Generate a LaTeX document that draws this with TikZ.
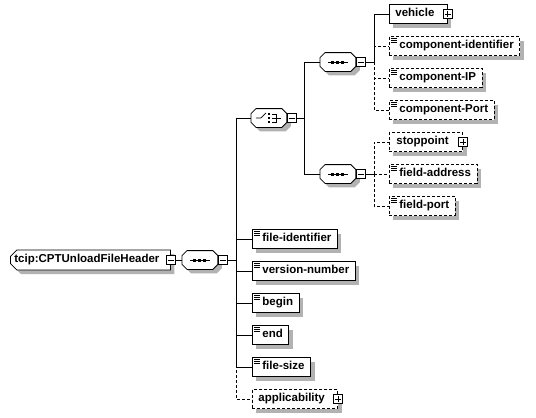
\documentclass[tikz,border=0pt]{standalone}
\usepackage{fontspec}
\setmainfont{Liberation Sans}
\usetikzlibrary{shapes.misc}

% compositor outline: shadow, then white octagon
\newcommand\octa[1]{%
  \fill[black!30, transform canvas={xshift=4pt,yshift=-4pt}]
    ([xshift=5pt]#1.north west) -- ([xshift=-5pt]#1.north east) -- ([yshift=-5pt]#1.north east)
    -- ([yshift=5pt]#1.south east) -- ([xshift=-5pt]#1.south east) -- ([xshift=5pt]#1.south west)
    -- ([yshift=5pt]#1.south west) -- ([yshift=-5pt]#1.north west) -- cycle;
  \draw[fill=white]
    ([xshift=5pt]#1.north west) -- ([xshift=-5pt]#1.north east) -- ([yshift=-5pt]#1.north east)
    -- ([yshift=5pt]#1.south east) -- ([xshift=-5pt]#1.south east) -- ([xshift=5pt]#1.south west)
    -- ([yshift=5pt]#1.south west) -- ([yshift=-5pt]#1.north west) -- cycle;}
% element box with its shadow: [style]{name}{x,y}{text}
\newcommand\elem[4][]{%
  \node[elem, #1, draw=none, fill=black!30, path picture={}]
    at ([xshift=4pt,yshift=-4pt]#3) {\phantom{#4}};
  \node[elem, #1] (#2) at (#3) {#4};}
% sequence mark
\newcommand\seqmark[1]{%
  \octa{#1}
  \draw ([xshift=-10pt]#1.center) -- ([xshift=10pt]#1.center);
  \foreach \d in {-6.5,-1.5,3.5}
    \fill ([xshift=\d pt,yshift=-1.5pt]#1.center) rectangle ++(3pt,3pt);}
% choice mark
\newcommand\choicemark[1]{%
  \octa{#1}
  \draw ([xshift=-13pt]#1.center) -- ([xshift=-8pt]#1.center) -- ([xshift=-3pt,yshift=5pt]#1.center);
  \foreach \d in {-5.2,-1.2,2.8}
    \fill ([xshift=-1.2pt,yshift=\d pt]#1.center) rectangle ++(2.4pt,2.4pt);
  \draw ([xshift=3pt,yshift=4pt]#1.center) -- ([xshift=7pt,yshift=4pt]#1.center)
    -- ([xshift=7pt,yshift=-4pt]#1.center) -- ([xshift=3pt,yshift=-4pt]#1.center);
  \draw ([xshift=3pt]#1.center) -- ([xshift=12pt]#1.center);}

\begin{document}
\begin{tikzpicture}[x=1pt, y=-1pt, line width=0.8pt,
  every node/.style={font=\fontsize{11.5}{13}\selectfont\bfseries},
  elem/.style={draw, fill=white, anchor=west, minimum height=19pt,
    inner xsep=6pt, inner ysep=0pt, text height=8pt, text depth=2.5pt},
  rootbox/.style={elem, chamfered rectangle, chamfered rectangle corners={north west,south west},
    chamfered rectangle xsep=3pt, minimum height=20pt, inner xsep=1pt,
    execute at end node={\hspace*{7pt}}},
  opt/.style={dash pattern=on 3pt off 2pt},
  leaf/.style={execute at begin node={\hspace*{4pt}},
    path picture={\foreach \k in {2pt,4pt,6pt}
      \draw[black, solid, line width=0.5pt] ([xshift=2pt,yshift=-\k]path picture bounding box.north west) -- ++(6pt,0pt);}},
  more/.style={execute at end node={\hspace*{7pt}}},
  minusbox/.style={draw, fill=white, minimum size=9pt, inner sep=0pt,
    path picture={\draw[black] ([xshift=-3pt]path picture bounding box.center) -- ++(6pt,0pt);}},
  plusbox/.style={draw, fill=white, minimum size=9pt, inner sep=0pt,
    path picture={\draw[black] ([xshift=-3pt]path picture bounding box.center) -- ++(6pt,0pt);
      \draw[black] ([yshift=-3pt]path picture bounding box.center) -- ++(0pt,6pt);}},
  comp/.style={anchor=west, minimum width=35pt, minimum height=18pt, inner sep=0pt}
]
\useasboundingbox (0,0) rectangle (536,418);

% Root element
\elem[rootbox]{root}{10,260}{tcip:CPTUnloadFileHeader}
\node[minusbox] (root-x) at (root.east) {};

% Main sequence
\node[comp] (seq1) at (182,260) {};
\seqmark{seq1}
\node[minusbox, anchor=west] (seq1-x) at (seq1.east) {};
\coordinate (bus1) at (236,260);

% Choice
\node[comp] (choice) at (251,118) {};
\choicemark{choice}
\node[minusbox, anchor=west] (choice-x) at (choice.east) {};
\coordinate (bus2) at (304,118);

% Component sequence
\node[comp] (seq2) at (320,62) {};
\seqmark{seq2}
\node[minusbox, anchor=west] (seq2-x) at (seq2.east) {};
\coordinate (bus3) at (374,62);
\elem[more]{vehicle}{389,14}{vehicle}
\node[plusbox] (vehicle-x) at (vehicle.east) {};
\elem[leaf, opt]{compid}{389,46}{component-identifier}
\elem[leaf, opt]{compip}{389,78}{component-IP}
\elem[leaf, opt]{compport}{389,110}{component-Port}

% Field sequence
\node[comp] (seq3) at (320,174) {};
\seqmark{seq3}
\node[minusbox, anchor=west] (seq3-x) at (seq3.east) {};
\coordinate (bus4) at (374,174);
\elem[more, opt, inner xsep=7pt]{stoppoint}{389,142}{stoppoint}
\node[plusbox] (stoppoint-x) at (stoppoint.east) {};
\elem[leaf, opt]{fieldaddr}{389,174}{field-address}
\elem[leaf, opt]{fieldport}{389,206}{field-port}

% Header fields
\elem[leaf]{fileid}{252,239}{file-identifier}
\elem[leaf]{version}{252,271}{version-number}
\elem[leaf]{begin}{252,303}{begin}
\elem[leaf]{end}{252,335}{end}
\elem[leaf]{filesize}{252,367}{file-size}
\elem[more, opt]{applic}{252,399}{applicability}
\node[plusbox] (applic-x) at (applic.east) {};

% Connectors
\draw (root-x.east) -- (seq1.west);
\draw (seq1-x.east) -- (bus1);
\draw[opt] (bus1) |- (applic.west);
\foreach \n in {choice,fileid,version,begin,end,filesize}
  \draw (bus1) |- (\n.west);
\draw (choice-x.east) -- (bus2);
\draw (bus2) |- (seq2.west);
\draw (bus2) |- (seq3.west);
\draw (seq2-x.east) -- (bus3);
\foreach \n in {compid,compip,compport}
  \draw[opt] (bus3) |- (\n.west);
\draw (bus3) |- (vehicle.west);
\draw (seq3-x.east) -- (bus4);
\foreach \n in {stoppoint,fieldaddr,fieldport}
  \draw[opt] (bus4) |- (\n.west);
\end{tikzpicture}
\end{document}
